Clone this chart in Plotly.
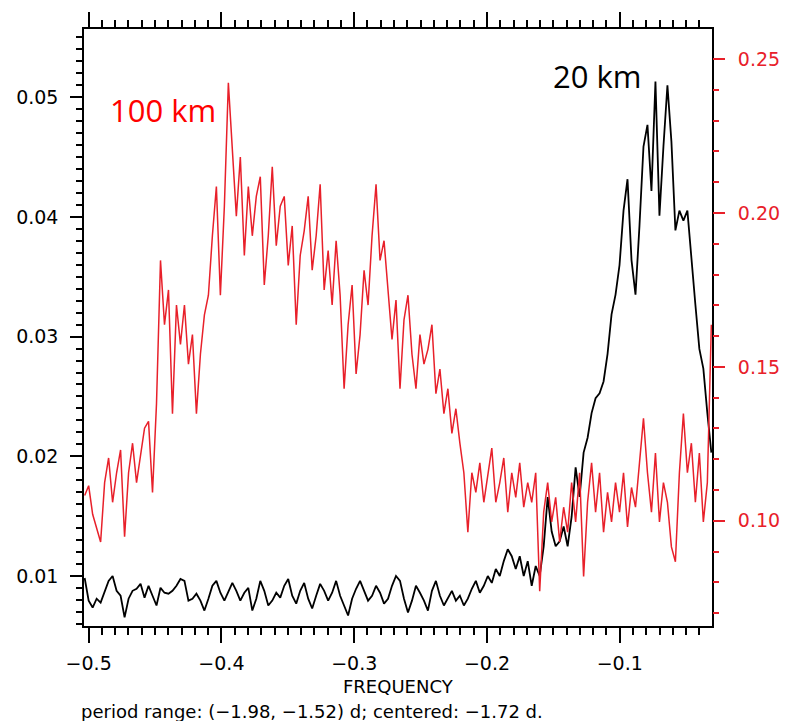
import numpy as np
import plotly.graph_objects as go

# Frequency grid of the two spectra (cycles per day)
freq = np.linspace(-0.503, -0.031, 158)

# Spectrum of the 100 km series (right-hand axis)
power_100km = [
    0.1082, 0.1114, 0.1021, 0.0980, 0.0931, 0.1124, 0.1204, 0.1060, 0.1156, 0.1230,
    0.0948, 0.1156, 0.1252, 0.1124, 0.1214, 0.1301, 0.1323, 0.1092, 0.1381, 0.1846,
    0.1637, 0.1750, 0.1348, 0.1701, 0.1573, 0.1701, 0.1509, 0.1605, 0.1348, 0.1541,
    0.1669, 0.1733, 0.1926, 0.2086, 0.1733, 0.2022, 0.2423, 0.2214, 0.1990, 0.2182,
    0.1862, 0.2086, 0.1926, 0.2054, 0.2118, 0.1766, 0.1926, 0.2150, 0.1894, 0.2022,
    0.2054, 0.1830, 0.1958, 0.1637, 0.1862, 0.1942, 0.2054, 0.1814, 0.1926, 0.2093,
    0.1750, 0.1878, 0.1701, 0.1910, 0.1733, 0.1429, 0.1637, 0.1766, 0.1477, 0.1605,
    0.1814, 0.1701, 0.1926, 0.2093, 0.1846, 0.1910, 0.1733, 0.1589, 0.1717, 0.1429,
    0.1653, 0.1733, 0.1541, 0.1429, 0.1605, 0.1509, 0.1557, 0.1637, 0.1413, 0.1493,
    0.1348, 0.1429, 0.1284, 0.1364, 0.1252, 0.1156, 0.0963, 0.1156, 0.1092, 0.1188,
    0.1060, 0.1156, 0.1236, 0.1060, 0.1124, 0.1204, 0.1028, 0.1156, 0.1076, 0.1188,
    0.1044, 0.1124, 0.1060, 0.1156, 0.0771, 0.1028, 0.1124, 0.0996, 0.1076, 0.0931,
    0.1044, 0.0963, 0.1124, 0.0996, 0.1156, 0.0819, 0.1060, 0.1188, 0.1028, 0.1156,
    0.0963, 0.1092, 0.0996, 0.1124, 0.1028, 0.1156, 0.0980, 0.1108, 0.1044, 0.1188,
    0.1333, 0.1156, 0.1028, 0.1220, 0.0996, 0.1124, 0.1060, 0.0915, 0.0867, 0.1156,
    0.1348, 0.1156, 0.1252, 0.1060, 0.1220, 0.0996, 0.1124, 0.1637,
]

# Spectrum of the 20 km series (left-hand axis)
power_20km = [
    0.00983, 0.00794, 0.00736, 0.00810, 0.00777, 0.00876, 0.00959, 0.01000, 0.00876, 0.00835,
    0.00654, 0.00810, 0.00876, 0.00893, 0.00934, 0.00819, 0.00918, 0.00835, 0.00753, 0.00901,
    0.00860, 0.00852, 0.00876, 0.00918, 0.00975, 0.00959, 0.00794, 0.00810, 0.00852, 0.00794,
    0.00711, 0.00810, 0.00918, 0.00959, 0.00860, 0.00794, 0.00876, 0.00942, 0.00876, 0.00794,
    0.00860, 0.00901, 0.00711, 0.00810, 0.00959, 0.00876, 0.00753, 0.00794, 0.00860, 0.00819,
    0.00918, 0.00975, 0.00835, 0.00769, 0.00876, 0.00942, 0.00810, 0.00728, 0.00835, 0.00934,
    0.00876, 0.00794, 0.00860, 0.00959, 0.00835, 0.00753, 0.00670, 0.00810, 0.00893, 0.00959,
    0.00876, 0.00794, 0.00835, 0.00918, 0.00860, 0.00769, 0.00810, 0.00918, 0.01000, 0.00959,
    0.00810, 0.00695, 0.00794, 0.00918, 0.00860, 0.00794, 0.00711, 0.00876, 0.00959, 0.00835,
    0.00753, 0.00810, 0.00876, 0.00794, 0.00835, 0.00753, 0.00810, 0.00893, 0.00959, 0.00860,
    0.00918, 0.01000, 0.00942, 0.01058, 0.01000, 0.01124, 0.01223, 0.01165, 0.01058, 0.01165,
    0.01000, 0.01124, 0.00918, 0.01083, 0.01000, 0.01248, 0.01660, 0.01371, 0.01248, 0.01289,
    0.01413, 0.01248, 0.01495, 0.01907, 0.01660, 0.02031, 0.02155, 0.02361, 0.02485, 0.02526,
    0.02625, 0.02856, 0.03186, 0.03351, 0.03598, 0.04052, 0.04315, 0.03639, 0.03351, 0.03928,
    0.04588, 0.04769, 0.04216, 0.05132, 0.04010, 0.04588, 0.05099, 0.04629, 0.03887, 0.04052,
    0.03969, 0.04052, 0.03639, 0.03268, 0.02897, 0.02732, 0.02361, 0.02031,
]

RED = "#E8202A"
TICK_FONT = dict(family="DejaVu Sans", size=19, color="black")

fig = go.Figure()
fig.add_trace(go.Scatter(x=freq, y=power_20km, mode="lines",
                         line=dict(color="black", width=1.8), yaxis="y",
                         showlegend=False, hoverinfo="skip"))
fig.add_trace(go.Scatter(x=freq, y=power_100km, mode="lines",
                         line=dict(color=RED, width=1.5), yaxis="y2",
                         showlegend=False, hoverinfo="skip"))

fig.update_layout(
    width=792, height=721,
    margin=dict(l=84, r=78, t=21, b=95, pad=0),
    paper_bgcolor="white", plot_bgcolor="white",
    xaxis=dict(
        range=[-0.5035, -0.0305], tick0=0, dtick=0.1,
        ticks="outside", ticklen=15, tickwidth=1.5, tickcolor="black",
        minor=dict(ticks="outside", ticklen=7, tickwidth=1.5, tickcolor="black",
                   tick0=0, dtick=0.01),
        showline=True, linecolor="black", linewidth=1.5, mirror="ticks",
        showgrid=False, zeroline=False, tickfont=TICK_FONT,
        ticklabelstandoff=4,
    ),
    yaxis=dict(
        range=[0.00582, 0.0557], tick0=0, dtick=0.01,
        ticks="outside", ticklen=12, tickwidth=1.5, tickcolor="black",
        minor=dict(ticks="outside", ticklen=6, tickwidth=1.5, tickcolor="black",
                   tick0=0, dtick=0.001),
        showline=True, linecolor="black", linewidth=1.5, mirror=True,
        showgrid=False, zeroline=False, tickfont=TICK_FONT,
        ticklabelstandoff=8,
    ),
    yaxis2=dict(
        overlaying="y", side="right",
        range=[0.0658, 0.2598], tick0=0, dtick=0.05, tickformat=".2f",
        ticks="outside", ticklen=12, tickwidth=1.5, tickcolor=RED,
        minor=dict(ticks="outside", ticklen=6, tickwidth=1.5, tickcolor=RED,
                   tick0=0, dtick=0.01),
        showline=False, showgrid=False, zeroline=False,
        tickfont=dict(family="DejaVu Sans", size=19, color=RED),
        ticklabelstandoff=9,
    ),
    annotations=[
        dict(text="100 km", x=0.038, y=0.864, xref="paper", yref="paper",
             xanchor="left", yanchor="middle", showarrow=False,
             font=dict(family="Open Sans", size=31, color="#FF0000")),
        dict(text="20 km", x=0.743, y=0.921, xref="paper", yref="paper",
             xanchor="left", yanchor="middle", showarrow=False,
             font=dict(family="Open Sans", size=31, color="black")),
        dict(text="FREQUENCY", x=0.5, y=-0.1017, xref="paper", yref="paper",
             xanchor="center", yanchor="middle", showarrow=False,
             font=dict(family="DejaVu Sans", size=18, color="black")),
        dict(text="period range: (\u22121.98, \u22121.52) d; centered: \u22121.72 d.",
             x=-0.008, y=-0.1425, xref="paper", yref="paper",
             xanchor="left", yanchor="middle", showarrow=False,
             font=dict(family="DejaVu Sans", size=18, color="black")),
    ],
)

fig.write_html("out.html")
